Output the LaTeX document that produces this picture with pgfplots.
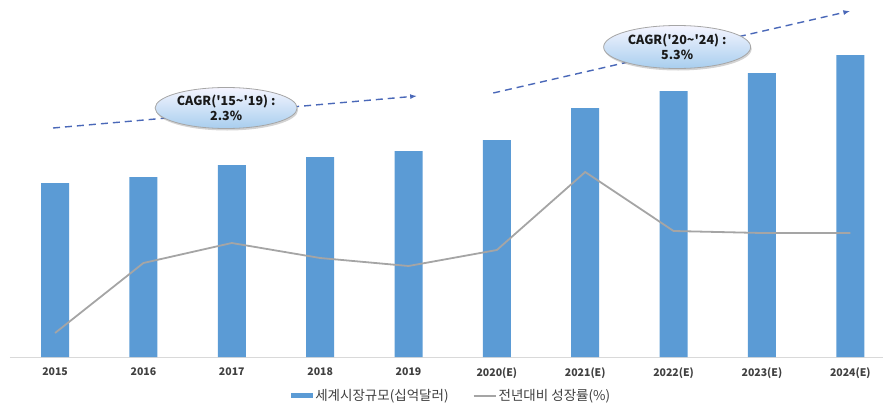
\documentclass[border=0pt]{standalone}
\usepackage{fontspec}
\setmainfont{Noto Sans CJK KR}
\usepackage{pgfplots}
\pgfplotsset{compat=1.18}
\usetikzlibrary{shapes.geometric,shadows,arrows.meta}
\definecolor{barblue}{HTML}{5B9BD5}
\definecolor{linegray}{HTML}{A5A5A5}
\definecolor{arrowblue}{HTML}{4A68B8}
\definecolor{ticktext}{HTML}{404040}
\definecolor{axisgray}{HTML}{D9D9D9}
\begin{document}
\begin{tikzpicture}[x=1pt,y=1pt]
\path[use as bounding box] (0,0) rectangle (885,405);
\begin{axis}[
  at={(10pt,48pt)}, anchor=south west,
  scale only axis, width=873pt, height=357pt,
  xmin=-0.51, xmax=9.37, ymin=0, ymax=178.5,
  clip=false,
  axis y line=none,
  axis x line*=bottom,
  axis line style={axisgray, line width=0.8pt, -},
  xtick={0,...,9},
  xticklabels={2015,2016,2017,2018,2019,2020(E),2021(E),2022(E),2023(E),2024(E)},
  major tick length=0pt,
  xticklabel style={font=\fontsize{10.5}{11}\selectfont\bfseries, text=ticktext, yshift=-7pt},
  legend style={at={(0.506,-0.108)}, anchor=center, draw=none, fill=none,
    legend columns=2, font=\fontsize{13.5}{14}\selectfont, text=ticktext,
    /tikz/every even column/.append style={column sep=22pt}},
]
\addplot[ybar, bar width=28pt, fill=barblue, draw=none,
  legend image code/.code={\fill[barblue] (0pt,-2.5pt) rectangle (22pt,2.5pt);}]
  coordinates {(0,87) (1,90) (2,96) (3,100) (4,103) (5,108.5) (6,124.5) (7,133) (8,142) (9,151)};
\addlegendentry{세계시장규모(십억달러)}
\addlegendimage{legend image code/.code={\draw[linegray, line width=2pt] (0pt,0pt) -- (22pt,0pt);}}
\addlegendentry{전년대비 성장률(\%)}
% dashed trend arrows
\draw[arrowblue, line width=1.4pt, dash pattern=on 7pt off 5pt, -{Latex[length=7pt,width=5pt]}]
  (axis cs:-0.023,114.5) -- (axis cs:4.098,130.5);
\draw[arrowblue, line width=1.4pt, dash pattern=on 7pt off 5pt, -{Latex[length=7pt,width=5pt]}]
  (axis cs:4.959,132) -- (axis cs:9.0,173);
\node[ellipse, draw=gray!70, line width=0.8pt, minimum width=142pt, minimum height=41pt,
  top color=blue!4!white, bottom color={rgb,255:red,168;green,206;blue,238},
  drop shadow={shadow xshift=1pt, shadow yshift=-2pt, opacity=0.35},
  align=center, font=\fontsize{12.5}{15}\selectfont\bfseries, text={rgb,255:red,25;green,25;blue,25}, inner sep=0pt]
  at (axis cs:1.936,124.5) {CAGR(\textquotesingle15\textasciitilde\textquotesingle19) :\\2.3\%};
\node[ellipse, draw=gray!70, line width=0.8pt, minimum width=147pt, minimum height=43pt,
  top color=blue!4!white, bottom color={rgb,255:red,168;green,206;blue,238},
  drop shadow={shadow xshift=1pt, shadow yshift=-2pt, opacity=0.35},
  align=center, font=\fontsize{12.5}{15}\selectfont\bfseries, text={rgb,255:red,25;green,25;blue,25}, inner sep=0pt]
  at (axis cs:7.04,155) {CAGR(\textquotesingle20\textasciitilde\textquotesingle24) :\\5.3\%};
\end{axis}
\begin{axis}[
  at={(10pt,48pt)}, anchor=south west,
  scale only axis, width=873pt, height=357pt,
  xmin=-0.51, xmax=9.37, ymin=0, ymax=17.85,
  hide axis,
]
\addplot[linegray, line width=1.8pt, mark=none]
  coordinates {(0,1.2) (1,4.7) (2,5.7) (3,4.95) (4,4.55) (5,5.35) (6,9.25) (7,6.3) (8,6.2) (9,6.2)};
\end{axis}
\end{tikzpicture}
\end{document}
